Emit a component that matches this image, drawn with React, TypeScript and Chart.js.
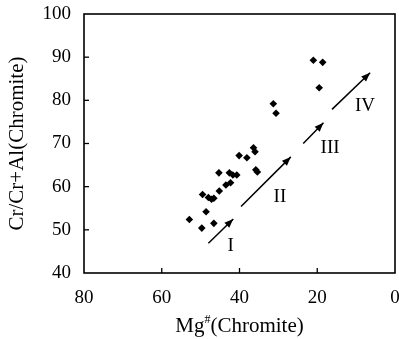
import React, { useEffect, useRef } from 'react';
import { Chart, registerables } from 'chart.js';

Chart.register(...registerables);

// Scatter data: Mg# (x) vs Cr/(Cr+Al) (y), chromite
const mgNumber = [52.9, 49.7, 46.6, 48.6, 49.5, 48.0, 47.2, 46.6, 45.2, 43.5, 42.3, 45.3, 42.6, 41.7, 40.7, 35.8, 35.4, 40.1, 38.1, 36.4, 36.0, 31.3, 30.6, 21.0, 18.6, 19.5];
const crRatio = [52.4, 50.4, 51.5, 54.2, 58.2, 57.5, 57.1, 57.3, 59.0, 60.4, 60.9, 63.2, 63.2, 62.7, 62.7, 63.9, 63.4, 67.2, 66.7, 69.0, 68.1, 79.2, 77.0, 89.3, 88.8, 82.9];

// Trend arrows (stages I–IV)
const arrowStartMg = [48.0, 39.6, 23.6, 16.2];
const arrowStartCr = [46.9, 55.4, 70.0, 77.9];
const arrowEndMg = [41.6, 26.8, 18.4, 6.4];
const arrowEndCr = [52.5, 66.9, 74.8, 86.4];
const stageLabels = ['I', 'II', 'III', 'IV'];
const stageLabelMg = [42.3, 29.6, 16.7, 7.7];
const stageLabelCr = [46.3, 57.5, 68.9, 78.7];

const xTickValues = [80, 60, 40, 20, 0];
const yTickValues = [40, 50, 60, 70, 80, 90, 100];

const yTitle = 'Cr/Cr+Al(Chromite)';
const xTitleMain = 'Mg';
const xTitleSup = '#';
const xTitleRest = '(Chromite)';

const SERIF = '"Liberation Serif", "Times New Roman", serif';

const decorPlugin = {
  id: 'decor',
  afterDatasetsDraw(chart: any) {
    const { ctx, chartArea: a, scales } = chart;
    const xs = scales.x;
    const ys = scales.y;
    ctx.save();
    ctx.strokeStyle = '#000';
    ctx.fillStyle = '#000';
    ctx.lineWidth = 1.6;
    ctx.strokeRect(a.left, a.top, a.right - a.left, a.bottom - a.top);

    // inward tick marks
    ctx.lineWidth = 1.3;
    xTickValues.forEach((v) => {
      const px = xs.getPixelForValue(v);
      if (px <= a.left + 1 || px >= a.right - 1) return;
      ctx.beginPath();
      ctx.moveTo(px, a.bottom);
      ctx.lineTo(px, a.bottom - 5);
      ctx.stroke();
    });
    yTickValues.forEach((v) => {
      const py = ys.getPixelForValue(v);
      if (py <= a.top + 1 || py >= a.bottom - 1) return;
      ctx.beginPath();
      ctx.moveTo(a.left, py);
      ctx.lineTo(a.left + 5, py);
      ctx.stroke();
    });

    // arrowheads
    for (let i = 0; i < arrowEndMg.length; i++) {
      const sx = xs.getPixelForValue(arrowStartMg[i]);
      const sy = ys.getPixelForValue(arrowStartCr[i]);
      const ex = xs.getPixelForValue(arrowEndMg[i]);
      const ey = ys.getPixelForValue(arrowEndCr[i]);
      const ang = Math.atan2(ey - sy, ex - sx);
      const len = 9;
      const hw = 3.5;
      const bx = ex - Math.cos(ang) * len;
      const by = ey - Math.sin(ang) * len;
      ctx.beginPath();
      ctx.moveTo(ex, ey);
      ctx.lineTo(bx - Math.sin(ang) * hw, by + Math.cos(ang) * hw);
      ctx.lineTo(bx + Math.sin(ang) * hw, by - Math.cos(ang) * hw);
      ctx.closePath();
      ctx.fill();
    }

    // stage labels
    ctx.font = `19px ${SERIF}`;
    ctx.textAlign = 'center';
    ctx.textBaseline = 'middle';
    stageLabels.forEach((t, i) => {
      ctx.fillText(t, xs.getPixelForValue(stageLabelMg[i]), ys.getPixelForValue(stageLabelCr[i]));
    });

    // x title with superscript
    const mainFont = `21px ${SERIF}`;
    const supFont = `12px ${SERIF}`;
    ctx.font = mainFont;
    const w1 = ctx.measureText(xTitleMain).width;
    const w3 = ctx.measureText(xTitleRest).width;
    ctx.font = supFont;
    const w2 = ctx.measureText(xTitleSup).width;
    const total = w1 + w2 + w3;
    const cx = (a.left + a.right) / 2;
    let x0 = cx - total / 2;
    const baseY = 332;
    ctx.textAlign = 'left';
    ctx.textBaseline = 'alphabetic';
    ctx.font = mainFont;
    ctx.fillText(xTitleMain, x0, baseY);
    x0 += w1;
    ctx.font = supFont;
    ctx.fillText(xTitleSup, x0, baseY - 9);
    x0 += w2;
    ctx.font = mainFont;
    ctx.fillText(xTitleRest, x0, baseY);

    // y title
    ctx.save();
    ctx.translate(17, (a.top + a.bottom) / 2);
    ctx.rotate(-Math.PI / 2);
    ctx.textAlign = 'center';
    ctx.textBaseline = 'middle';
    ctx.font = mainFont;
    ctx.fillText(yTitle, 0, 0);
    ctx.restore();

    ctx.restore();
  },
};

export default function App() {
  const ref = useRef<HTMLCanvasElement | null>(null);

  useEffect(() => {
    if (!ref.current) return;
    const points = mgNumber.map((x, i) => ({ x, y: crRatio[i] }));
    const arrowSets = arrowStartMg.map((_, i) => ({
      type: 'scatter' as const,
      data: [
        { x: arrowStartMg[i], y: arrowStartCr[i] },
        { x: arrowEndMg[i], y: arrowEndCr[i] },
      ],
      showLine: true,
      borderColor: '#000',
      borderWidth: 1.5,
      pointRadius: 0,
      pointHoverRadius: 0,
    }));
    const chart = new Chart(ref.current, {
      type: 'scatter',
      data: {
        datasets: [
          {
            data: points,
            pointStyle: 'rectRot',
            pointRadius: 3.8,
            backgroundColor: '#000',
            borderColor: '#000',
            borderWidth: 0,
          },
          ...arrowSets,
        ],
      },
      options: {
        animation: false,
        responsive: false,
        devicePixelRatio: 1,
        layout: { padding: { left: 0, right: 4, top: 14, bottom: 0 } },
        plugins: { legend: { display: false }, tooltip: { enabled: false }, title: { display: false } },
        scales: {
          x: {
            type: 'linear',
            reverse: true,
            min: 0,
            max: 80,
            grid: { display: false },
            border: { display: false },
            ticks: {
              stepSize: 20,
              padding: 6,
              color: '#000',
              font: { family: SERIF, size: 19 },
              maxRotation: 0,
            },
            afterFit(s: any) {
              s.height = 66;
              s.paddingLeft = 0;
              s.paddingRight = 0;
            },
          },
          y: {
            type: 'linear',
            min: 40,
            max: 100,
            grid: { display: false },
            border: { display: false },
            ticks: {
              stepSize: 10,
              padding: 5,
              color: '#000',
              font: { family: SERIF, size: 19 },
            },
            afterFit(s: any) {
              s.width = 84;
              s.paddingTop = 0;
              s.paddingBottom = 0;
            },
          },
        },
      },
      plugins: [decorPlugin],
    });
    return () => chart.destroy();
  }, []);

  return (
    <div style={{ position: 'fixed', left: 0, top: 0, width: 399, height: 339, background: '#fff' }}>
      <canvas ref={ref} width={399} height={339} style={{ width: 399, height: 339 }} />
    </div>
  );
}
